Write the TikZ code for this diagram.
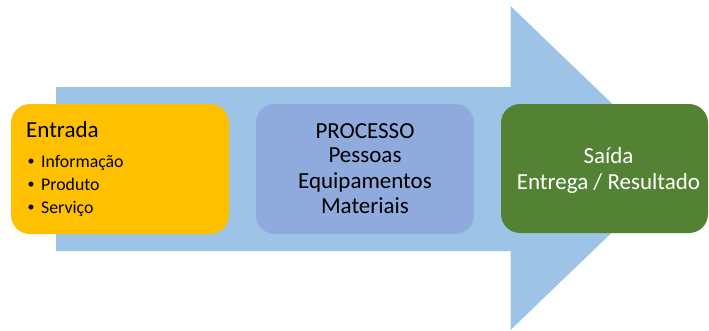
\documentclass[tikz,border=0pt]{standalone}
\usepackage{fontspec}
\setmainfont{Carlito}
\definecolor{arrowblue}{HTML}{9DC3E6}
\definecolor{procblue}{HTML}{8FAADC}
\definecolor{inyellow}{HTML}{FFC000}
\definecolor{outgreen}{HTML}{548235}
\begin{document}
\begin{tikzpicture}[x=1pt,y=-1pt,
  box/.style={rounded corners=19pt, inner sep=0pt, draw=none},
  big/.style={font=\fontsize{23}{25}\selectfont, inner sep=0pt, anchor=base},
  small/.style={font=\fontsize{17.8}{21}\selectfont, inner sep=0pt, anchor=base west},
  bul/.style={font=\fontsize{14}{16}\selectfont, inner sep=0pt, anchor=base west}]
\useasboundingbox (0,0) rectangle (709,330);
% big arrow
\fill[arrowblue] (56,87) -- (510.5,87) -- (510.5,6) -- (679,168) -- (510.5,330) -- (510.5,251) -- (56,251) -- cycle;
% boxes
\node[box, fill=inyellow, minimum width=218pt, minimum height=130pt] (entrada) at (120,169) {};
\node[box, fill=procblue, minimum width=218pt, minimum height=130pt] (processo) at (365,169) {};
\node[box, fill=outgreen, minimum width=207pt, minimum height=129pt] (saida) at (604.5,168.5) {};
% Entrada text
\node[big, anchor=base west] (entT) at (26,137) {Entrada};
\node[bul] (b1) at (27.5,165.5) {\textbullet};
\node[small] (i1) at (41,167) {Informação};
\node[bul] (b2) at (27.5,188.5) {\textbullet};
\node[small] (i2) at (41,190) {Produto};
\node[bul] (b3) at (27.5,211.5) {\textbullet};
\node[small] (i3) at (41,213) {Serviço};
% Processo text
\node[big] (p1) at (365,138.3) {PROCESSO};
\node[big] (p2) at (365,162.7) {Pessoas};
\node[big] (p3) at (365,188.3) {Equipamentos};
\node[big] (p4) at (365,213.3) {Materiais};
% Saida text
\node[big, text=white] (s1) at (608.5,163) {Saída};
\node[big, text=white] (s2) at (608.5,189) {Entrega / Resultado};
\end{tikzpicture}
\end{document}
